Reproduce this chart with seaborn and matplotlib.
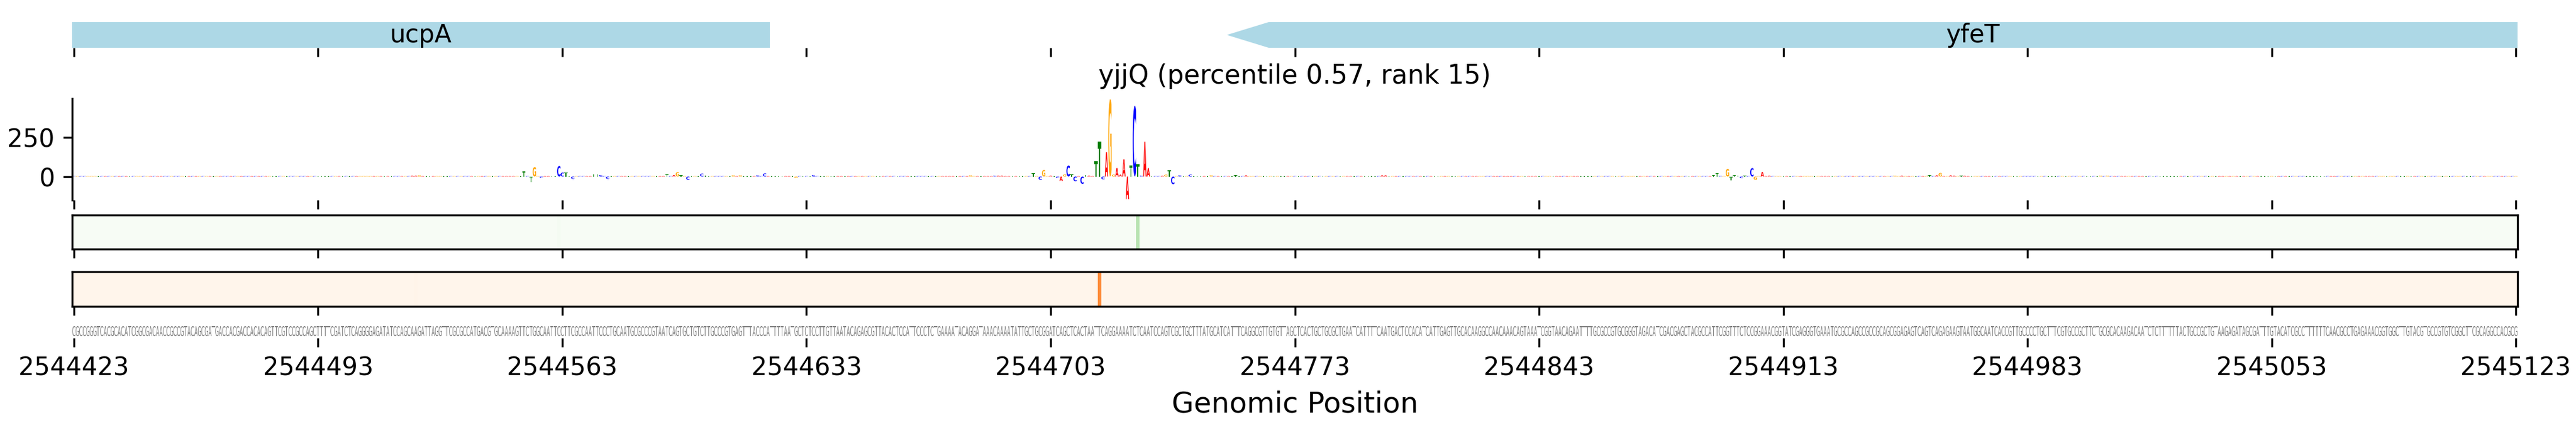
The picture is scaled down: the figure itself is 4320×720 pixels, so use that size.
import numpy as np
import pandas as pd
import matplotlib
matplotlib.use("Agg")
import matplotlib.pyplot as plt
import seaborn as sns
from matplotlib.textpath import TextPath
from matplotlib.font_manager import FontProperties
from matplotlib.patches import PathPatch, Rectangle, Polygon
from matplotlib.transforms import Affine2D

# ------------------------------------------------------------------
# data
# ------------------------------------------------------------------
window_start = 2544423
window_end = 2545123
tick_step = 70

sequence = (
    # 2544423 .. 2544541
    "CGCCGGGTCACGCACATCGGCGACAACCGCCGTACAGCGATGACCACGACCACACAGTTC"
    "GTCCGCCAGCTTTTCGATCTCAGGGGAGATATCCAGCAAGATTAGGTTCGCGCCATGAC"
    # 2544542 ..
    "GTGCAAAAGTTCTGGCAATTCCTTCGCCAATTCCCTGCAATGCGCCCGTAATCAGTGCTG"
    "TCTTGCCCGTGAGTTTACCCATTTTAATGCTCTCCTTGTTAATACAGAGCGTTACACT"
    # 2544660 ..
    "CCATTCCCTCTGAAAATACAGGATAAACAAAATATTGCTGCGGATCAGCTCACTAATTCA"
    "GGAAAATCTCAATCCAGTCGCTGCTTTATGCATCATTTCAGGCGTTGTGTTAGCTCACT"
    # 2544779 ..
    "GCTGCGCTGAATCATTTTCAATGACTCCACATCATTGAGTTGCACAAGGCCAACAAACAG"
    "TAAATCGGTAACAGAATTTTGCGCCGTGCGGGTAGACATCGACGAGCTACGCCATTCGG"
    # 2544898 ..
    "TTTCTCCGGAAACGGTATCGAGGGTGAAATGCGCCAGCCGCCGCAGCGGAGAGTCAGTCA"
    "GAGAAGTAATGGCAATCACCGTTGCCCCTGCTTTCGTGCCGCTTCTGCGCACAAGACA"
    # 2545016 .. 2545123
    "ATCTCTTTTTTACTGCCGCTGTAAGAGATAGCGATTTGTACATCGCCTTTTTTCAACGCC"
    "TGAGAAACGGTGGCTTGTACGTGCCGTGTCGGCTTCGCAGGCCACGCG"
)

# attribution logo: index in window -> score (everything else is tiny)
peak_index = [97, 98, 99,
              129, 131, 132, 134, 139, 140, 141, 143, 149, 150, 151, 153,
              170, 172, 173, 174, 176, 180, 181, 189, 191, 196, 198, 207, 212,
              257, 264, 265, 266,
              275, 277, 278, 280, 282, 283, 284, 285, 286, 287, 289, 290, 291,
              293, 294, 295, 296, 297, 298, 299, 300, 301, 302, 303, 304, 305,
              306, 307, 308, 312, 313, 314, 315, 317, 320, 326, 333, 336,
              375, 376,
              470, 471, 472, 474, 475, 476, 477, 478, 479, 481, 482, 484, 486,
              522, 524, 532, 534, 535, 538, 539, 541, 542,
              581, 583]
peak_score = [6, 6, 8,
              33, -34, 60, -8, 67, 25, 25, -15, 15, 15, 10, -15,
              13, 10, 28, 8, -21, 19, 6, 8, 8, 8, 20, -9, 10,
              8, 6, 6, 6,
              23, -21, 42, 6, -9, -28, 13, 70, 12, -30, -47, 10, 6,
              98, 222, -18, 155, 493, 12, 54, 12, 109, -144, 69, 452, 78,
              6, 222, 54, 5, 12, 42, -49, 8, 12, 8, 8, 8,
              8, 8,
              8, 21, 4, 48, -25, 8, 6, -10, 5, 54, -21, 29, 6,
              6, 6, 8, 8, 23, 8, 6, 5, 5,
              6, 6]
background_score = 3

base_colors = {"A": "red", "C": "blue", "G": "orange", "T": "green"}

gene_names = ["ucpA", "yfeT"]
gene_starts = [2544423, 2544754]
gene_ends = [2544622, 2545181]
gene_strands = ["+", "-"]

# the two heat strips below the logo
green_index = [139, 305]
green_value = [0.02, 0.30]
orange_index = [98, 294]
orange_value = [0.01, 0.50]

title = "yjjQ (percentile 0.57, rank 15)"
xlabel = "Genomic Position"

# ------------------------------------------------------------------
n_pos = window_end - window_start + 1
assert len(sequence) == n_pos, len(sequence)

positions = np.arange(window_start, window_end + 1)
scores = np.full(n_pos, float(background_score))
scores[peak_index] = peak_score

green_row = np.zeros(n_pos)
green_row[green_index] = green_value
orange_row = np.zeros(n_pos)
orange_row[orange_index] = orange_value

ticks = np.arange(window_start, window_end + 1, tick_step)
xlim = (window_start - 0.5, window_end + 0.5)

sns.set_style("ticks")
plt.rcParams["font.family"] = ["DejaVu Sans"]
plt.rcParams.update({
    "text.color": "black", "axes.labelcolor": "black", "axes.edgecolor": "black",
    "xtick.color": "black", "ytick.color": "black",
    "xtick.labelsize": 10, "ytick.labelsize": 10,
})

_glyphs = {}


def glyph(letter, weight):
    key = (letter, weight)
    if key not in _glyphs:
        tp = TextPath((0, 0), letter, size=1,
                      prop=FontProperties(family="DejaVu Sans", weight=weight))
        _glyphs[key] = (tp, tp.get_extents())
    return _glyphs[key]


def draw_letter(ax, letter, x, bottom, height, color, weight="bold", width=0.95):
    # stretch the glyph so it fills [x-w/2, x+w/2] x [bottom, bottom+height]
    tp, ext = glyph(letter, weight)
    tr = (Affine2D().translate(-ext.x0, -ext.y0)
          .scale(width / ext.width, height / ext.height)
          .translate(x - width / 2, bottom))
    ax.add_patch(PathPatch(tr.transform_path(tp), facecolor=color,
                           edgecolor="none", lw=0))


fig = plt.figure(figsize=(14.4, 2.4), dpi=300)
left, width = 121 / 4320, 4101 / 4320

# --- gene track ---
ax_gene = fig.add_axes([left, 1 - 80 / 720, width, 43 / 720])
for name, s, e, strand in zip(gene_names, gene_starts, gene_ends, gene_strands):
    lo, hi = s - 0.5, e + 0.5
    if strand == "+":
        shape = Rectangle((lo, 0), hi - lo, 1)
    else:
        head = 12
        shape = Polygon([(lo, 0.5), (lo + head, 1), (hi, 1), (hi, 0), (lo + head, 0)])
    shape.set_facecolor("lightblue")
    shape.set_edgecolor("none")
    ax_gene.add_patch(shape)
    ax_gene.text((s + e) / 2, 0.5, name, ha="center", va="center", fontsize=10,
                 clip_on=True)
ax_gene.set_xlim(xlim)
ax_gene.set_ylim(0, 1)
ax_gene.set_xticks(ticks)
ax_gene.tick_params(labelbottom=False, left=False, labelleft=False)
ax_gene.set_yticks([])
sns.despine(ax=ax_gene, left=True, bottom=True)

# --- attribution logo ---
ax_logo = fig.add_axes([left, 1 - 335 / 720, width, 170 / 720])
for pos, base, sc in zip(positions, sequence, scores):
    bottom, h = (0, sc) if sc >= 0 else (sc, -sc)
    draw_letter(ax_logo, base, pos, bottom, h, base_colors[base])
ax_logo.set_xlim(xlim)
ax_logo.set_ylim(-150, 497)
ax_logo.set_yticks([0, 250])
ax_logo.set_xticks(ticks)
ax_logo.tick_params(labelbottom=False)
ax_logo.set_title(title, fontsize=10.5)
sns.despine(ax=ax_logo, bottom=True)

# --- heat strips ---
for row, cmap, y0, h in [(green_row, "Greens", 1 - 417 / 720, 57 / 720),
                         (orange_row, "Oranges", 1 - 513 / 720, 58 / 720)]:
    ax = fig.add_axes([left, y0, width, h])
    sns.heatmap(pd.DataFrame([row], columns=positions), ax=ax, cmap=cmap,
                vmin=0, vmax=1, cbar=False, xticklabels=False, yticklabels=False)
    ax.set_xticks(ticks - window_start + 0.5)
    ax.set_yticks([])
    ax.tick_params(bottom=True, labelbottom=False, left=False)
    ax.set_xlabel("")
    ax.set_ylabel("")
    for sp in ax.spines.values():
        sp.set_visible(True)
        sp.set_color("black")
        sp.set_linewidth(0.8)

# --- reference sequence ---
ax_seq = fig.add_axes([left, 1 - 566 / 720, width, 20 / 720])
for pos, base in zip(positions, sequence):
    draw_letter(ax_seq, base, pos, 0, 1, "gray", weight="normal", width=0.9)
ax_seq.set_xlim(xlim)
ax_seq.set_ylim(-0.18, 1)
ax_seq.set_xticks(ticks)
ax_seq.set_xticklabels([str(t) for t in ticks])
ax_seq.set_yticks([])
ax_seq.set_xlabel(xlabel, fontsize=11.5)
sns.despine(ax=ax_seq, left=True, bottom=True)

fig.savefig("out.png", dpi=300)
plt.close(fig)
